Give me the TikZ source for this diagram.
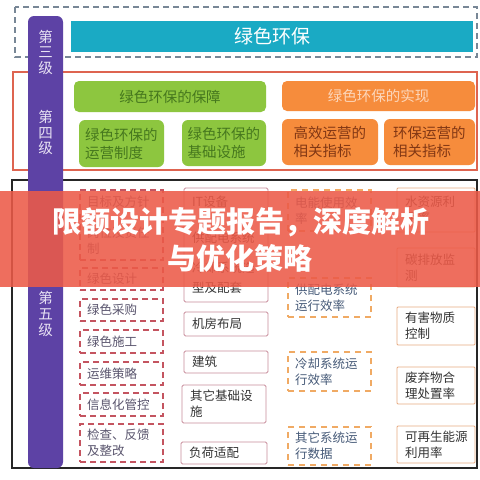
\documentclass[tikz,border=0pt]{standalone}
\usepackage{fontspec}
\setmainfont{Noto Sans CJK SC}
\definecolor{purp}{RGB}{93,66,165}
\definecolor{purptxt}{RGB}{232,226,244}
\definecolor{teal1}{RGB}{26,170,196}
\definecolor{lvlfour}{RGB}{222,100,80}
\definecolor{grayd}{RGB}{120,135,150}
\definecolor{grn}{RGB}{141,198,63}
\definecolor{grntxt}{RGB}{70,120,30}
\definecolor{org}{RGB}{246,140,60}
\definecolor{orgtxt}{RGB}{130,55,20}
\definecolor{orghd}{RGB}{252,214,186}
\definecolor{cone}{RGB}{196,84,96}
\definecolor{conetxt}{RGB}{90,85,110}
\definecolor{ctwo}{RGB}{200,140,155}
\definecolor{cthree}{RGB}{240,170,100}
\definecolor{cthreetxt}{RGB}{70,90,120}
\definecolor{cfour}{RGB}{232,170,130}
\definecolor{bannerc}{RGB}{236,90,72}
\newcommand\bx[8]{%
 \pgfmathsetmacro\bw{#5-#3}\pgfmathsetmacro\bh{#6-#4}%
 \pgfmathsetmacro\btw{#5-#3-2*#7}%
 \pgfmathsetmacro\bcx{(#3+#5)/2}\pgfmathsetmacro\bcy{(#4+#6)/2}%
 \node[#1, inner xsep=#7pt, minimum width=\bw pt, minimum height=\bh pt, text width=\btw pt] (#2) at (\bcx,\bcy) {#8};}
\begin{document}
\begin{tikzpicture}[x=1pt,y=-1pt,
  lvl/.style={text=purptxt, font=\fontsize{14.5}{15.5}\selectfont, align=center, inner sep=0pt},
  hdrg/.style={fill=grn, rounded corners=5pt, text=grntxt, font=\fontsize{14.5}{18}\selectfont, align=center, inner ysep=0pt},
  subg/.style={fill=grn, rounded corners=6pt, text=grntxt, font=\fontsize{14.5}{18}\selectfont, align=left, inner ysep=0pt},
  hdro/.style={fill=org, rounded corners=5pt, text=orghd, font=\fontsize{14.5}{18}\selectfont, align=center, inner ysep=0pt},
  subo/.style={fill=org, rounded corners=6pt, text=orgtxt, font=\fontsize{14.5}{18}\selectfont, align=left, inner ysep=0pt},
  cbase/.style={font=\fontsize{12.5}{16}\selectfont, align=left, inner ysep=0pt},
  conebox/.style={cbase, draw=cone, dash pattern=on 6pt off 4pt, line width=1.4pt, text=conetxt},
  ctwobox/.style={cbase, draw=ctwo, line width=0.9pt, rounded corners=1.5pt, text=black!80},
  cthreebox/.style={cbase, draw=cthree, dash pattern=on 6pt off 5pt, line width=1.4pt, text=cthreetxt},
  cfourbox/.style={cbase, draw=cfour, line width=0.9pt, rounded corners=1pt, text=black!80},
  bannertxt/.style={text=white, font=\fontsize{29}{32}\bfseries\selectfont, inner sep=0pt}
]
\useasboundingbox (0,0) rectangle (480,480);
\fill[white] (0,0) rectangle (480,480);
% level frames
\draw[grayd, line width=1.2pt, dash pattern=on 6pt off 4pt] (15,7) rectangle (477,57);
\draw[lvlfour, line width=1.2pt] (13,72) rectangle (477,170);
\draw[black!85, line width=1.8pt] (12,180) rectangle (477,468);
% purple level bar
\fill[purp, rounded corners=6pt] (28,16) rectangle (63,468);
\node[lvl] (l3) at (45.5,52) {第\\三\\级};
\node[lvl] (l4) at (45.5,132.5) {第\\四\\级};
\node[lvl, font=\fontsize{14.5}{16}\selectfont] (l5) at (45.5,314) {第\\五\\级};
% level 3
\node[fill=teal1, text=white, font=\fontsize{19}{22}\selectfont, minimum width=402pt, minimum height=31pt, inner sep=0pt] (top) at (272,36.5) {绿色环保};
% level 4
\bx{hdrg}{g0}{74}{81}{266}{112}{5}{绿色环保的保障}
\bx{subg}{g1}{79}{120}{164}{167}{6}{绿色环保的\\运营制度}
\bx{subg}{g2}{182}{120}{266}{166}{5.5}{绿色环保的\\基础设施}
\bx{hdro}{o0}{282}{81}{475}{111}{5}{绿色环保的实现}
\bx{subo}{o1}{282}{119}{378}{165}{11.5}{高效运营的\\相关指标}
\bx{subo}{o2}{384}{119}{475}{165}{9}{环保运营的\\相关指标}
% level 5 column 1
\bx{conebox}{a1}{80}{190}{163}{260}{7}{目标及方针\\[15pt]岗位及责任\\制}
\bx{conebox}{a2}{80}{268}{163}{290}{7}{绿色设计}
\bx{conebox}{a3}{80}{299}{163}{321}{7}{绿色采购}
\bx{conebox}{a4}{80}{330}{163}{353}{7}{绿色施工}
\bx{conebox}{a5}{80}{362}{163}{385}{7}{运维策略}
\bx{conebox}{a6}{80}{393}{163}{416}{7}{信息化管控}
\bx{conebox}{a7}{80}{424}{163}{462}{7}{检查、反馈\\及整改}
% column 2
\bx{ctwobox}{b1}{184}{188}{268}{302}{8}{IT设备\\[20pt]供配电系统\\[14pt]冷却系统选\\[4pt]型及配套}
\bx{ctwobox}{b2}{184}{312}{268}{336}{8}{机房布局}
\bx{ctwobox}{b3}{184}{351}{268}{373}{8}{建筑}
\bx{ctwobox}{b4}{182}{385}{266}{423}{8}{其它基础设\\施}
\bx{ctwobox}{b5}{181}{442}{267}{464}{8}{负荷适配}
% column 3
\bx{cthreebox}{c1}{288}{190}{371}{231}{7}{电能使用效\\率}
\bx{cthreebox}{c2}{288}{278}{371}{317}{7}{供配电系统\\运行效率}
\bx{cthreebox}{c3}{288}{352}{371}{391}{7}{冷却系统运\\行效率}
\bx{cthreebox}{c4}{288}{427}{371}{465}{7}{其它系统运\\行数据}
% column 4
\bx{cfourbox}{d1}{397}{188}{475}{232}{8}{水资源利\\用率}
\bx{cfourbox}{d2}{397}{248}{475}{287}{8}{碳排放监\\测}
\bx{cfourbox}{d3}{397}{307}{475}{345}{8}{有害物质\\控制}
\bx{cfourbox}{d4}{397}{367}{475}{404}{8}{废弃物合\\理处置率}
\bx{cfourbox}{d5}{397}{426}{475}{463}{8}{可再生能源\\利用率}
% banner
\fill[bannerc, opacity=0.88] (0,191) rectangle (480,287);
\node[bannertxt] (t1) at (241,222) {限额设计专题报告，深度解析};
\node[bannertxt] (t2) at (240,258) {与优化策略};
\end{tikzpicture}
\end{document}
